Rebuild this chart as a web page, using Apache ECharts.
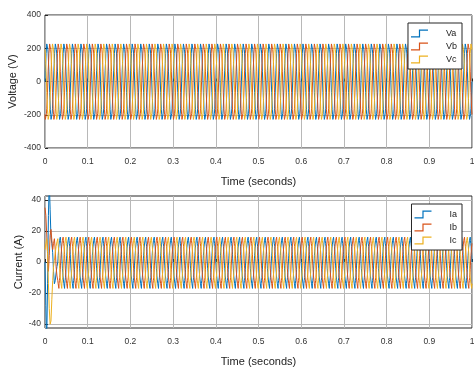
<!DOCTYPE html>
<html>
<head>
<meta charset="utf-8">
<script src="https://cdn.jsdelivr.net/npm/echarts@6/dist/echarts.min.js"></script>
<style>
  html, body { margin: 0; padding: 0; background: #fff; }
  #chart { width: 474px; height: 368px; }
</style>
</head>
<body>
<div id="chart"></div>
<script>
// one 50 Hz cycle of the inverter voltage, 24 samples
const vCycle = [0, 68, 110, 168, 196, 226, 222, 232, 192, 166, 112, 62,
  0, -66, -112, -170, -198, -228, -224, -234, -194, -164, -110, -64];
// sample offset of each phase inside the cycle (120 deg = 8 samples)
const vNames = ["Va", "Vb", "Vc"];
const vOffset = [0, 16, 8];

// one steady-state cycle of the current with switching ripple, 48 samples
const iCycle = [0, 2, 4, 5, 7, 9, 8, 11, 12, 11, 14, 13, 15, 13, 16, 14, 15, 12, 13, 10, 9, 7, 5, 2,
  0, -2, -4, -5, -7, -9, -8, -11, -12, -11, -14, -13, -15, -13, -17, -14, -15, -12, -13, -10, -9, -7, -5, -2];
const iNames = ["Ia", "Ib", "Ic"];
const iOffset = [0, 32, 16];

// start-up transient of the currents (first 28 ms)
const tStart = [0, 0.002, 0.004, 0.006, 0.008, 0.010, 0.012, 0.014, 0.016, 0.018, 0.020, 0.022, 0.024, 0.026, 0.028];
const iaStart = [0, -28, -52, -14, 30, 52, 34, 16, 12, 6, -6, -14, -12, -7, -3];
const ibStart = [35, 30, 18, 5, -6, 4, 17, 21, 14, 8, 12, 15, 8, -3, -9];
const icStart = [8, 12, 15, 6, -14, -30, -40, -38, -24, -12, -3, 1, 6, 10, 13];
const iStart = [iaStart, ibStart, icStart];

const colors = ["#0072BD", "#D95319", "#EDB120"];
const iTicks = [-40, -20, 0, 20, 40];

function voltageSeries(p) {
  const pts = [];
  const step = 0.02 / vCycle.length;
  const n = Math.round(1 / step);
  for (let k = 0; k <= n; k++) {
    pts.push([k * step, vCycle[(k + vOffset[p]) % vCycle.length]]);
  }
  return pts;
}

function currentSeries(p) {
  const pts = [];
  for (let k = 0; k < tStart.length; k++) pts.push([tStart[k], iStart[p][k]]);
  const step = 0.02 / iCycle.length;
  const n = Math.round(0.97 / step);
  for (let k = 0; k <= n; k++) {
    pts.push([0.03 + k * step, iCycle[(k + iOffset[p]) % iCycle.length]]);
  }
  return pts;
}

const font = "Liberation Sans";
const gridLine = { show: true, lineStyle: { color: "#b8b8b8", width: 1 } };
const tickLabel = { color: "#333", fontSize: 8.5, fontFamily: font };
const nameStyle = { color: "#222", fontSize: 11, fontFamily: font };

// thin filled step shape, like the stairs glyph in the legend
const stepIcon = "path://M0,20 L9.3,20 L9.3,0 L20,0 L20,3.3 L10.7,3.3 L10.7,23.3 L0,23.3 Z";

function xAxis(gi) {
  return {
    type: "value", gridIndex: gi, min: 0, max: 1, interval: 0.1,
    axisLine: { show: false },
    axisTick: { inside: true, length: 3, lineStyle: { color: "#262626" } },
    axisLabel: Object.assign({ margin: 9, formatter: (v) => String(Math.round(v * 10) / 10) }, tickLabel),
    splitLine: gridLine,
    name: "Time (seconds)", nameLocation: "middle", nameGap: 28, nameTextStyle: nameStyle,
  };
}

function legendIcon(names, top) {
  return {
    orient: "vertical", right: 12, top: top,
    itemWidth: 17, itemHeight: 8, itemGap: 0,
    symbolKeepAspect: false,
    padding: [4, 5, 3, 3],
    backgroundColor: "#fff", borderColor: "#262626", borderWidth: 1,
    textStyle: { color: "#222", fontSize: 9, lineHeight: 13, fontFamily: font, padding: [0, 0, 0, 13] },
    data: names.map((nm, i) => ({
      name: nm,
      icon: stepIcon,
      itemStyle: { color: colors[i], borderWidth: 0, opacity: 1 },
    })),
  };
}

const chart = echarts.init(document.getElementById("chart"), null, { renderer: "canvas" });

const series = [];
vNames.forEach((nm, p) => series.push({
  name: nm, type: "line", xAxisIndex: 0, yAxisIndex: 0, data: voltageSeries(p),
  showSymbol: false, lineStyle: { width: 1, color: colors[p] }, itemStyle: { color: colors[p] },
}));
iNames.forEach((nm, p) => series.push({
  name: nm, type: "line", xAxisIndex: 1, yAxisIndex: 1, data: currentSeries(p),
  showSymbol: false, lineStyle: { width: 1, color: colors[p] }, itemStyle: { color: colors[p] },
}));

const gridBase = { left: 45, width: 427, show: true, borderColor: "#262626", borderWidth: 1,
  backgroundColor: "transparent", containLabel: false, outerBoundsMode: "none" };

chart.setOption({
  animation: false,
  backgroundColor: "#fff",
  grid: [
    Object.assign({ top: 15, height: 133 }, gridBase),
    Object.assign({ top: 196, height: 132 }, gridBase),
  ],
  legend: [legendIcon(vNames, 23), legendIcon(iNames, 204)],
  xAxis: [xAxis(0), xAxis(1)],
  yAxis: [
    {
      type: "value", gridIndex: 0, min: -400, max: 400, interval: 200,
      axisLine: { show: false },
      axisTick: { show: true, inside: true, length: 3, lineStyle: { color: "#262626" } },
      axisLabel: Object.assign({ margin: 4 }, tickLabel),
      splitLine: gridLine,
      name: "Voltage (V)", nameLocation: "middle", nameGap: 27, nameMoveOverlap: false,
      nameTextStyle: nameStyle,
    },
    {
      type: "value", gridIndex: 1, min: -42.5, max: 42.5,
      axisLine: { show: false },
      axisTick: { show: true, inside: true, length: 3, customValues: iTicks, lineStyle: { color: "#262626" } },
      axisLabel: Object.assign({ margin: 4, customValues: iTicks }, tickLabel),
      splitLine: gridLine,
      name: "Current (A)", nameLocation: "middle", nameGap: 21, nameMoveOverlap: false,
      nameTextStyle: nameStyle,
    },
  ],
  series: series,
});
</script>
</body>
</html>
